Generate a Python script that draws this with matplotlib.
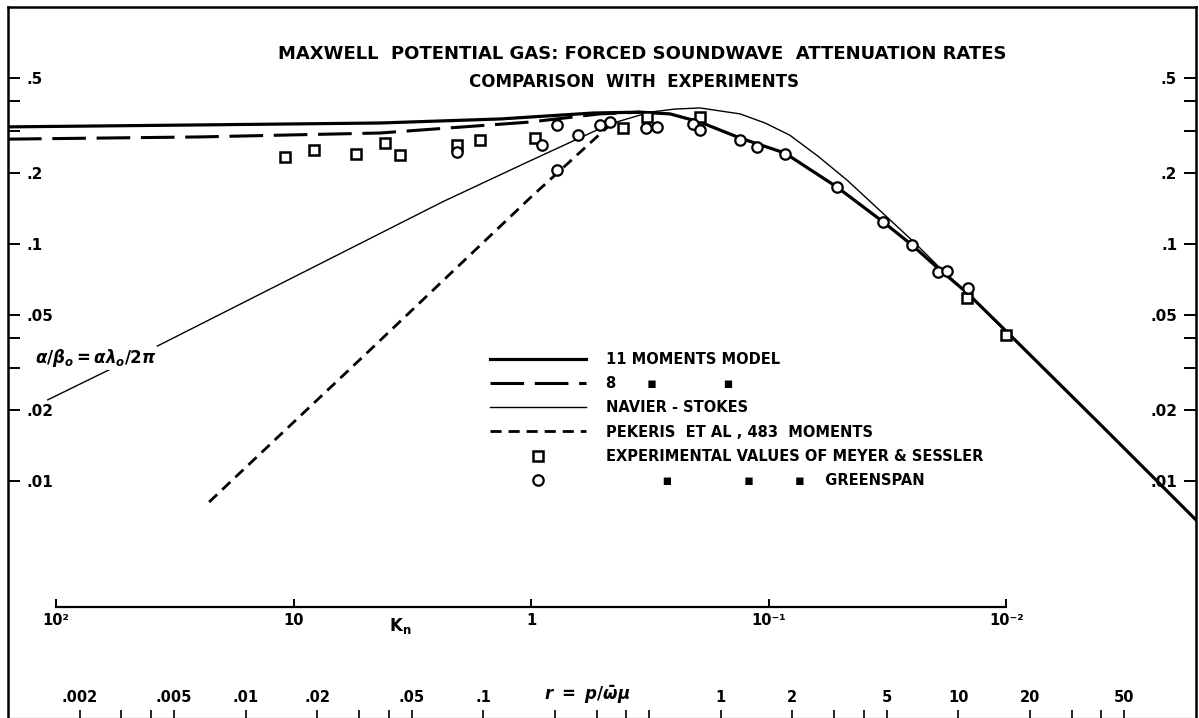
import numpy as np
import matplotlib.pyplot as plt
from matplotlib.ticker import FixedLocator, NullLocator

plt.rcParams['font.family'] = ['DejaVu Sans']
plt.rcParams['font.weight'] = 'bold'

# attenuation per wavelength alpha/beta0 against r = p/(omega mu)
r_11mom = [0.001, 0.00643, 0.0368, 0.118, 0.290, 0.457, 0.611, 0.817, 1.205, 1.86,
           3.08, 4.82, 6.38, 8.37, 10.9, 15.4, 39.4, 100]
a_11mom = [0.312, 0.318, 0.324, 0.337, 0.357, 0.360, 0.354, 0.327, 0.280, 0.242,
           0.174, 0.124, 0.099, 0.0777, 0.0621, 0.0442, 0.0174, 0.00685]

r_8mom = [0.001, 0.00643, 0.0368, 0.0724, 0.157, 0.310, 0.457]
a_8mom = [0.277, 0.283, 0.294, 0.309, 0.327, 0.354, 0.360]

r_ns = [0.00147, 0.00392, 0.0678, 0.157, 0.342, 0.503, 0.641, 0.817, 1.205, 1.535,
        1.95, 2.56, 3.40, 5.00, 6.56, 8.37, 10.9, 15.4, 39.4, 100]
a_ns = [0.0220, 0.0356, 0.151, 0.224, 0.321, 0.360, 0.371, 0.375, 0.354, 0.324,
        0.288, 0.235, 0.186, 0.130, 0.101, 0.0792, 0.0621, 0.0442, 0.0174, 0.00685]

r_pek = [0.00702, 0.0334, 0.157, 0.352]
a_pek = [0.00815, 0.0357, 0.156, 0.327]

# Meyer & Sessler (squares), Greenspan (circles)
r_meyer = [0.01465, 0.0194, 0.0292, 0.0386, 0.0447, 0.0776, 0.0970, 0.165, 0.387,
           0.489, 0.817, 10.9, 15.9]
a_meyer = [0.233, 0.249, 0.240, 0.267, 0.237, 0.262, 0.275, 0.280, 0.309,
           0.343, 0.343, 0.0592, 0.0413]

r_green = [0.0776, 0.177, 0.205, 0.251, 0.205, 0.310, 0.342, 0.484, 0.539, 0.764,
           0.817, 1.205, 1.42, 1.86, 3.08, 4.82, 6.38, 8.21, 8.95, 11.0]
a_green = [0.245, 0.262, 0.318, 0.288, 0.205, 0.318, 0.327, 0.309, 0.312, 0.321,
           0.303, 0.275, 0.257, 0.240, 0.174, 0.124, 0.0990, 0.0762, 0.0769, 0.0652]

# axis ticks
a_major = [0.5, 0.2, 0.1, 0.05, 0.02, 0.01]
a_labels = ['.5', '.2', '.1', '.05', '.02', '.01']
a_minor = [0.4, 0.3, 0.04, 0.03]

r_major = [0.002, 0.005, 0.01, 0.02, 0.05, 0.1, 1, 2, 5, 10, 20, 50]
r_labels = ['.002', '.005', '.01', '.02', '.05', '.1', '1', '2', '5', '10', '20', '50']
r_minor = [0.003, 0.004, 0.03, 0.04, 0.2, 0.3, 0.4, 0.5, 3, 4, 30, 40]

kn_ticks = [100, 10, 1, 0.1, 0.01]
kn_labels = ['10²', '10', '1', '10⁻¹', '10⁻²']

legend_labels = [
    '11 MOMENTS MODEL',
    '8      ▪             ▪',
    'NAVIER - STOKES',
    'PEKERIS  ET AL , 483  MOMENTS',
    'EXPERIMENTAL VALUES OF MEYER & SESSLER',
    '           ▪              ▪        ▪    GREENSPAN',
]


def r_to_kn(r):
    r = np.asarray(r, dtype=float)
    with np.errstate(divide='ignore'):
        return 1.0 / (2 * np.pi * r)


W, H = 1199, 718
fig = plt.figure(figsize=(W / 100, H / 100), dpi=100)
ax = fig.add_axes([8 / W, 0, 1188 / W, 711 / H])
ax.set_xscale('log')
ax.set_yscale('log')
ax.set_xlim(1e-3, 1e2)
ax.set_ylim(1e-3, 1)

l11, = ax.plot(r_11mom, a_11mom, color='k', lw=2.3, solid_joinstyle='round')
l8, = ax.plot(r_8mom, a_8mom, color='k', lw=2.2, dashes=(11, 3.5))
lns, = ax.plot(r_ns, a_ns, color='k', lw=1.0)
lpk, = ax.plot(r_pek, a_pek, color='k', lw=2.0, dashes=(4, 2.5))
sq, = ax.plot(r_meyer, a_meyer, ls='none', marker='s', ms=7, mfc='white',
              mec='k', mew=1.8, zorder=4)
ci, = ax.plot(r_green, a_green, ls='none', marker='o', ms=7.5, mfc='white',
              mec='k', mew=1.6, zorder=4)

for side in ['left', 'top', 'right']:
    ax.spines[side].set_linewidth(1.8)
ax.spines['bottom'].set_linewidth(0.8)

# y axis: labels inside the frame on both sides
ax.yaxis.set_major_locator(FixedLocator(a_major))
ax.yaxis.set_minor_locator(FixedLocator(a_minor))
ax.set_yticklabels(a_labels)
ax.yaxis.set_minor_formatter(plt.NullFormatter())
ax.tick_params(axis='y', which='both', direction='in', left=True, right=True,
               labelleft=True, labelright=True, length=8.5, width=1.4,
               pad=-13.5, labelsize=11)
for t in ax.yaxis.get_major_ticks():
    t.label1.set_horizontalalignment('left')
    t.label2.set_horizontalalignment('right')

# r axis along the bottom, labels above the ticks
ax.xaxis.set_major_locator(FixedLocator(r_major))
ax.xaxis.set_minor_locator(FixedLocator(r_minor))
ax.set_xticklabels(r_labels)
ax.xaxis.set_minor_formatter(plt.NullFormatter())
ax.tick_params(axis='x', which='both', direction='in', bottom=True, top=False,
               length=6, width=1.2, pad=-20, labelsize=10.5)

# Knudsen number scale drawn inside the plot
secax = ax.secondary_xaxis(0.1561, functions=(r_to_kn, r_to_kn))
secax.set_xticks(kn_ticks, labels=kn_labels)
secax.xaxis.set_minor_locator(NullLocator())
secax.tick_params(direction='in', length=6, width=1.4, pad=4, labelsize=10.5)
secax.spines['bottom'].set_bounds(0.01, 100)
secax.spines['bottom'].set_linewidth(1.6)

leg = ax.legend([l11, l8, lns, lpk, sq, ci], legend_labels, loc='upper left',
                bbox_to_anchor=(490 / W, 1 - 352 / H),
                bbox_transform=fig.transFigure, frameon=False, borderpad=0,
                borderaxespad=0, fontsize=10.5, handlelength=6.6,
                handletextpad=1.35, labelspacing=0.63, numpoints=1)

fig.text(642 / W, 1 - 54 / H,
         'MAXWELL  POTENTIAL GAS: FORCED SOUNDWAVE  ATTENUATION RATES',
         ha='center', va='center', fontsize=13)
fig.text(634 / W, 1 - 82 / H, 'COMPARISON  WITH  EXPERIMENTS',
         ha='center', va='center', fontsize=12)
fig.text(96 / W, 1 - 358 / H, r'$\alpha/\beta_o = \alpha\lambda_o/2\pi$',
         ha='center', va='center', fontsize=12,
         bbox=dict(fc='white', ec='none', pad=0.5))
fig.text(400 / W, 1 - 626 / H, r'$\mathbf{K_n}$', ha='center', va='center',
         fontsize=12)
fig.text(587 / W, 1 - 695 / H, r'$r\ =\ p/\bar{\omega}\mu$', ha='center',
         va='center', fontsize=12)

fig.savefig('out.png', dpi=100)
